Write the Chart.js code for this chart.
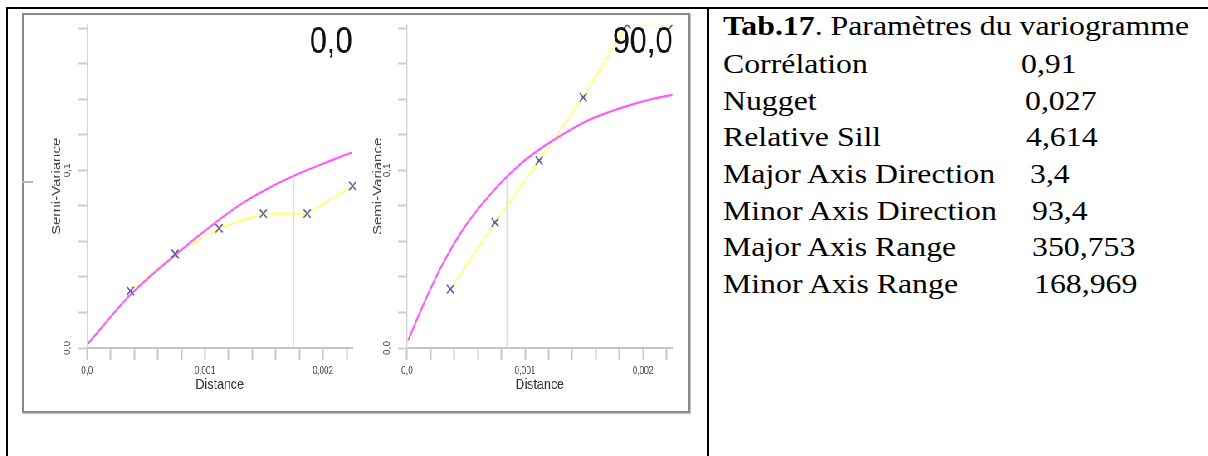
<!DOCTYPE html>
<html>
<head>
<meta charset="utf-8">
<title>Variogramme</title>
<script src="https://cdn.jsdelivr.net/npm/chart.js@4.4.1/dist/chart.umd.min.js"></script>
<style>
  html, body { margin: 0; padding: 0; background: #fff; }
  body { width: 1208px; height: 456px; position: relative; overflow: hidden; }
  .rule { position: absolute; background: #000; }
  #frame { position: absolute; left: 22px; top: 13px; width: 668px; height: 400px; box-sizing: border-box;
           border: 2px solid #8a8a8a; box-shadow: 1px 1px 1px #c8c8c8; }
  #notch { position: absolute; left: 22px; top: 181px; width: 11px; height: 2px; background: #b8b8b8; }
  #plots { position: absolute; left: 22px; top: 13px; height: 400px; transform-origin: 0 0; }
  #plots canvas { position: absolute; top: 0; }
  #params { position: absolute; left: 0; top: 0; font-family: "Liberation Serif", "Times New Roman", serif;
            font-size: 28px; color: #000; }
  #params div { position: absolute; white-space: nowrap; line-height: 32px; transform-origin: 0 0; }
</style>
</head>
<body>
<div class="rule" style="left:6px;top:7px;width:1202px;height:2px"></div>
<div class="rule" style="left:6px;top:7px;width:2px;height:449px"></div>
<div class="rule" style="left:707px;top:7px;width:2px;height:449px"></div>
<div id="frame"></div>
<div id="notch"></div>
<div id="plots">
  <canvas id="dir0"></canvas>
  <canvas id="dir90"></canvas>
</div>
<div id="params"></div>

<script>
// lag distances of the experimental variogram (same for both directions)
var lags = [0.000368, 0.000746, 0.00112, 0.001494, 0.001866, 0.00225];

// direction 0,0
var semi0 = [0.0321, 0.0530, 0.0674, 0.0757, 0.0757, 0.0912];
var model0X = [0.00001, 0.000364, 0.000746, 0.00111, 0.001322, 0.00161, 0.001754, 0.00189, 0.002034, 0.002169, 0.00225];
var model0Y = [0.0026, 0.0297, 0.0523, 0.0717, 0.0817, 0.0924, 0.0970, 0.1008, 0.1046, 0.1082, 0.1101];
var range0 = 0.00175;

// direction 90,0 (the last two points sit on the top edge of the plot)
var semi90 = [0.0331, 0.0707, 0.1055, 0.1411, 0.182, 0.182];
var model90X = [0.00001, 0.000138, 0.000308, 0.000506, 0.000774, 0.000958, 0.001155, 0.001353, 0.001523, 0.00172, 0.001918, 0.002087, 0.00225];
var model90Y = [0.0044, 0.0244, 0.0480, 0.0698, 0.0915, 0.1034, 0.1133, 0.1215, 0.1278, 0.1330, 0.1373, 0.1403, 0.1425];
var range90 = 0.000847;
var rangeTop = 0.097;

var xTickLabels = ['0,0', '0,001', '0,002'];
var yTickLabels = ['0,0', '0,1'];

var tableTitle = 'Paramètres du variogramme';
var paramNames = ['Corrélation', 'Nugget', 'Relative Sill', 'Major Axis Direction', 'Minor Axis Direction', 'Major Axis Range', 'Minor Axis Range'];
var paramValues = ['0,91', '0,027', '4,614', '3,4', '93,4', '350,753', '168,969'];

// layout (page pixels)
var SX = 0.83;           // the plot picture is squeezed horizontally
var TX = 1.136;          // the table text is stretched horizontally
var lineBase = [35, 73, 110, 146.5, 183.3, 220, 256.7, 293.3];
var valueLeft = [1021, 1025, 1026, 1030, 1032, 1032, 1034];

function points(xs, ys) {
  var out = [];
  for (var i = 0; i < xs.length; i++) out.push({x: xs[i], y: ys[i]});
  return out;
}

var cornerTitle = {
  id: 'cornerTitle',
  afterDraw: function(chart, args, opts) {
    var ctx = chart.ctx, area = chart.chartArea;
    ctx.save();
    ctx.font = '37px "Liberation Sans", Arial, sans-serif';
    ctx.fillStyle = '#111';
    ctx.textAlign = 'right';
    ctx.textBaseline = 'alphabetic';
    ctx.fillText(opts.text, area.right, area.top + 28);
    ctx.restore();
  }
};

function makeChart(p) {
  var canvas = document.getElementById(p.id);
  canvas.width = p.w;
  canvas.height = 400;
  canvas.style.left = p.u + 'px';

  var axisW = (p.plotLeft - 22) / SX - p.u;
  var padRight = p.u + p.w - (p.plotRight - 22) / SX;
  var titlePad = (p.titleX - 22) / SX - p.u - 9;
  var tl = 9 / SX;

  var font = {family: '"Liberation Sans", Arial, sans-serif', size: 10};

  return new Chart(canvas.getContext('2d'), {
    type: 'scatter',
    data: {
      datasets: [{
        label: 'semi-variance',
        data: points(lags, p.semi),
        showLine: false,
        pointStyle: 'crossRot',
        pointRadius: 6,
        pointBorderWidth: 1.7,
        borderColor: '#6262a6',
        backgroundColor: '#6262a6',
        clip: p.markClip
      }, {
        label: 'model',
        data: points(p.modelX, p.modelY),
        showLine: true,
        borderColor: '#ff5aff',
        borderWidth: 2.2,
        pointRadius: 0,
        cubicInterpolationMode: 'monotone'
      }, {
        label: 'trend',
        data: points(lags, p.semi),
        showLine: true,
        borderColor: '#ffff55',
        borderWidth: 2.3,
        borderDash: [2, 1],
        pointRadius: 0
      }, {
        label: 'range',
        data: [{x: p.range, y: 0}, {x: p.range, y: rangeTop}],
        showLine: true,
        borderColor: '#bfe2e2',
        borderWidth: 1.3,
        pointRadius: 0
      }]
    },
    options: {
      responsive: false,
      animation: false,
      layout: {padding: {top: 1, right: padRight, bottom: 0, left: 0}},
      plugins: {
        legend: {display: false},
        tooltip: {enabled: false},
        cornerTitle: {text: p.title}
      },
      scales: {
        x: {
          type: 'linear',
          min: 0,
          max: 0.00225,
          border: {display: true, color: '#c4c4c4', width: 2},
          grid: {drawOnChartArea: false, tickLength: 12, tickColor: '#c8c8c8', tickWidth: 2},
          ticks: {
            stepSize: 0.0002, autoSkip: false, includeBounds: false,
            minRotation: 0, maxRotation: 0, padding: 5, color: '#444', font: font,
            callback: function(v) {
              var k = Math.round(v * 1000);
              return Math.abs(v * 1000 - k) < 1e-6 ? xTickLabels[k] : '';
            }
          },
          title: {display: true, text: 'Distance', color: '#333',
                  font: {family: font.family, size: 15}, padding: {top: 0, bottom: 19}},
          afterFit: function(s) { s.height = 65; }
        },
        y: {
          type: 'linear',
          min: 0,
          max: 0.182,
          border: {display: true, color: '#d6d6d6', width: 1.5},
          grid: {drawOnChartArea: false, tickLength: tl, tickColor: '#cccccc', tickWidth: 2},
          ticks: {
            stepSize: 0.02, autoSkip: false, includeBounds: false,
            minRotation: 90, maxRotation: 90, crossAlign: 'center', padding: 5.7,
            color: '#444', font: font,
            callback: function(v) {
              var k = Math.round(v * 10);
              return Math.abs(v * 10 - k) < 1e-6 ? yTickLabels[k] : '';
            }
          },
          title: {display: true, text: 'Semi-Variance', color: '#444',
                  font: {family: font.family, size: 15}, padding: {top: titlePad, bottom: 0}},
          afterFit: function(s) { s.width = axisW; }
        }
      }
    },
    plugins: [cornerTitle]
  });
}

function buildTable() {
  var box = document.getElementById('params');
  var html = '<div style="left:723px;top:' + (lineBase[0] - 25.4) + 'px;transform:scaleX(' + TX + ')">' +
             '<b>Tab.17</b>. ' + tableTitle + '</div>';
  for (var i = 0; i < paramNames.length; i++) {
    var top = lineBase[i + 1] - 25.4;
    html += '<div style="left:723px;top:' + top + 'px;transform:scaleX(' + TX + ')">' + paramNames[i] + '</div>';
    html += '<div style="left:' + valueLeft[i] + 'px;top:' + top + 'px;transform:scaleX(' + TX + ')">' + paramValues[i] + '</div>';
  }
  box.innerHTML = html;
}

function init() {
  var plots = document.getElementById('plots');
  plots.style.width = '805px';
  plots.style.transform = 'scaleX(' + SX + ')';

  makeChart({id: 'dir0', u: 0, w: 414, plotLeft: 87, plotRight: 352.5, titleX: 57,
             title: '0,0', semi: semi0, modelX: model0X, modelY: model0Y, range: range0, markClip: 8});
  makeChart({id: 'dir90', u: 414, w: 391, plotLeft: 407, plotRight: 672.5, titleX: 378,
             title: '90,0', semi: semi90, modelX: model90X, modelY: model90Y, range: range90, markClip: 0});

  buildTable();
}

init();
</script>
</body>
</html>
